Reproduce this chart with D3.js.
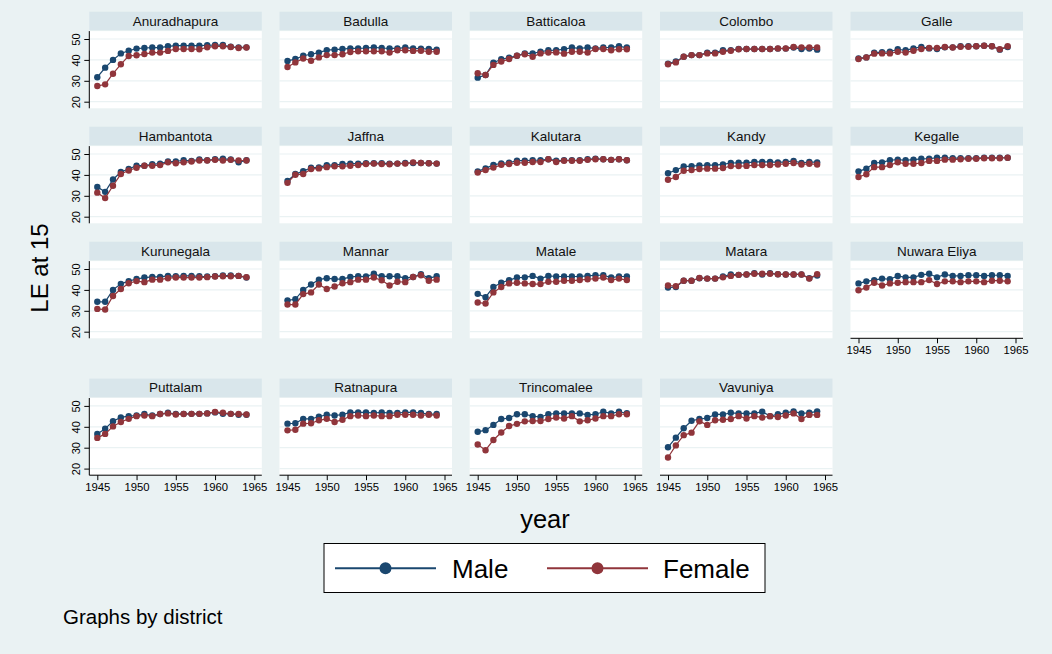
<!DOCTYPE html>
<html>
<head>
<meta charset="utf-8">
<script src="https://cdn.jsdelivr.net/npm/d3@7"></script>
<style>
  html, body { margin: 0; padding: 0; background: #eaf2f3; }
  svg { display: block; font-family: "Liberation Sans", Arial, sans-serif; }
</style>
</head>
<body>
<svg id="chart" width="1052" height="654"></svg>
<script>
// years 1945..1964
const years = d3.range(1945, 1965);

const districts = [
  "Anuradhapura", "Badulla", "Batticaloa", "Colombo", "Galle",
  "Hambantota", "Jaffna", "Kalutara", "Kandy", "Kegalle",
  "Kurunegala", "Mannar", "Matale", "Matara", "Nuwara Eliya",
  "Puttalam", "Ratnapura", "Trincomalee", "Vavuniya"
];

// LE at 15, males
const male = {
  "Anuradhapura": [31.7,36.3,40.0,43.1,44.4,45.4,45.7,45.9,45.9,46.5,46.8,46.8,46.8,46.8,47.0,47.1,47.1,46.3,46.0,46.0],
  "Badulla":      [39.5,40.4,42.0,42.7,43.5,44.7,44.9,45.2,45.5,45.5,45.7,46.0,45.7,45.5,45.5,45.9,45.5,45.4,45.2,44.9],
  "Batticaloa":   [31.5,32.8,38.7,40.3,41.1,42.0,43.1,43.1,43.9,44.6,44.7,45.1,45.9,45.5,45.9,45.5,45.9,46.0,46.5,45.9],
  "Colombo":      [38.2,39.2,41.5,42.3,42.3,43.5,43.5,44.6,44.7,45.2,45.2,45.2,45.2,45.2,45.4,45.4,45.9,45.2,45.4,44.9],
  "Galle":        [40.7,41.2,43.5,43.7,43.9,45.1,44.6,45.5,46.2,45.5,45.2,46.0,46.0,46.5,46.5,46.5,46.8,46.5,44.9,46.2],
  "Hambantota":   [34.2,31.9,37.8,41.4,42.8,44.4,44.4,45.1,45.4,46.4,46.4,47.0,46.7,47.4,47.0,47.5,47.7,47.4,46.0,47.0],
  "Jaffna":       [37.1,40.4,41.8,43.4,43.6,44.7,44.7,45.2,45.4,45.4,45.6,45.6,45.6,45.4,45.4,45.7,45.7,45.7,45.6,45.4],
  "Kalutara":     [41.7,43.1,44.8,45.5,45.8,46.8,46.8,47.0,47.0,47.5,46.8,47.0,47.0,47.0,47.5,47.8,47.5,47.2,47.5,47.0],
  "Kandy":        [40.8,42.3,44.0,44.2,44.5,44.7,44.7,45.0,45.7,45.8,45.8,46.2,46.2,46.2,46.0,46.2,46.7,45.7,46.2,46.0],
  "Kegalle":      [41.7,43.0,45.7,46.0,47.0,47.3,47.0,47.3,47.7,47.8,48.2,48.2,48.0,48.0,48.0,48.0,48.2,48.2,48.2,48.2],
  "Kurunegala":   [34.3,34.3,40.0,42.9,44.2,45.2,45.9,46.2,46.2,46.7,46.5,46.7,46.7,46.5,46.4,46.5,46.9,46.9,46.7,45.9],
  "Mannar":       [35.0,35.5,40.0,42.6,44.9,45.6,45.2,45.2,46.2,46.5,46.4,47.7,46.5,46.5,46.5,45.6,46.2,47.5,45.6,46.5],
  "Matale":       [38.1,36.5,41.4,43.4,44.7,45.9,46.0,46.7,45.4,46.7,46.4,46.4,46.4,46.4,46.7,47.0,47.0,45.9,46.4,46.4],
  "Matara":       [41.1,41.4,44.4,44.4,45.6,45.4,45.4,46.4,47.4,47.2,47.4,48.0,47.4,48.0,47.5,47.4,47.4,47.4,45.6,46.9],
  "Nuwara Eliya": [43.1,44.1,44.7,45.4,45.1,46.7,46.0,46.0,47.2,47.7,46.0,47.4,46.7,46.7,47.0,47.0,46.7,47.0,47.0,46.7],
  "Puttalam":     [36.6,39.1,42.7,44.5,45.1,45.4,46.1,45.4,46.1,46.7,46.1,46.2,46.2,46.2,46.4,46.9,46.2,46.2,45.8,45.8],
  "Ratnapura":    [41.5,41.7,43.8,43.8,44.8,45.8,45.4,45.8,46.9,46.9,46.9,46.6,46.9,46.6,46.6,46.9,46.9,46.6,46.1,46.1],
  "Trincomalee":  [37.6,38.4,40.9,43.7,44.2,46.0,46.0,45.1,44.7,46.0,46.4,46.4,46.4,46.4,45.7,46.0,47.2,46.4,47.2,46.5],
  "Vavuniya":     [30.2,34.8,39.3,42.9,43.7,44.2,45.9,45.9,46.7,46.4,46.4,46.4,47.2,45.1,46.0,46.7,47.4,46.4,46.7,47.4]
};

// LE at 15, females
const female = {
  "Anuradhapura": [27.5,28.3,33.4,37.9,41.9,42.2,42.8,43.5,43.5,44.3,45.2,45.2,45.2,45.1,46.0,46.5,46.5,46.2,45.7,45.9],
  "Badulla":      [36.6,38.8,40.7,39.6,41.2,42.3,42.3,42.7,43.8,44.1,44.1,44.1,44.1,43.5,44.6,44.6,44.3,44.4,43.9,43.9],
  "Batticaloa":   [33.6,32.8,37.6,39.2,40.4,42.0,42.7,41.5,43.1,43.5,43.6,43.0,43.9,43.9,43.5,45.2,45.2,44.6,45.1,45.1],
  "Colombo":      [37.9,38.8,41.5,42.3,42.3,43.1,43.1,43.9,44.4,45.1,45.2,45.2,45.2,45.2,45.5,45.5,46.2,46.0,46.0,45.9],
  "Galle":        [40.4,41.2,43.0,43.1,43.1,43.9,43.5,44.4,45.2,45.7,45.7,46.2,45.9,46.3,46.3,46.5,46.8,46.5,45.1,46.5],
  "Hambantota":   [31.5,28.9,34.8,40.4,42.1,43.4,44.4,44.4,44.7,46.0,45.6,46.0,46.4,46.9,46.9,47.2,46.9,47.2,46.9,46.9],
  "Jaffna":       [36.2,40.1,40.4,42.8,43.1,43.7,44.1,44.1,44.4,44.7,45.2,45.4,45.2,45.1,45.4,45.4,46.0,45.7,45.6,45.4],
  "Kalutara":     [41.1,42.3,43.5,44.8,45.2,45.8,45.8,46.2,46.2,47.5,46.2,46.8,46.8,46.8,47.2,47.5,47.5,47.2,47.5,47.0],
  "Kandy":        [37.7,39.0,42.0,42.3,42.8,43.0,43.0,43.3,44.2,44.2,44.3,44.7,44.7,44.7,45.0,45.3,45.7,45.0,45.3,45.0],
  "Kegalle":      [39.0,40.3,43.7,43.7,44.7,46.0,45.3,45.3,45.7,46.7,46.7,47.3,47.3,47.5,47.7,47.7,48.0,48.0,48.0,48.2],
  "Kurunegala":   [30.9,30.6,37.1,40.4,43.2,44.2,43.7,44.9,44.9,45.6,45.9,45.9,45.9,45.9,46.1,46.4,46.5,46.5,46.7,46.1],
  "Mannar":       [33.0,33.0,38.0,38.8,42.6,40.4,41.6,43.2,43.7,44.9,44.9,45.9,44.6,42.1,43.9,43.7,46.2,47.0,44.4,44.9],
  "Matale":       [34.0,33.5,38.8,41.4,43.1,43.4,43.1,42.8,42.8,43.9,43.9,44.4,44.4,44.7,45.1,45.4,45.9,44.7,45.4,44.7],
  "Matara":       [42.1,41.8,44.4,44.4,45.7,45.4,45.4,46.0,46.7,47.2,47.4,47.7,47.7,47.7,47.5,47.4,47.4,47.4,45.4,47.5],
  "Nuwara Eliya": [39.8,41.1,43.4,42.1,43.1,43.4,43.7,43.7,43.7,44.7,42.8,44.1,44.1,43.7,44.1,44.1,43.7,44.4,44.4,44.1],
  "Puttalam":     [34.7,36.6,40.2,42.3,43.8,45.1,45.4,45.1,46.1,46.4,45.9,46.1,46.2,46.2,46.4,47.1,46.7,46.2,46.1,45.9],
  "Ratnapura":    [38.3,38.6,41.5,41.7,43.1,43.8,42.3,43.4,45.1,45.4,45.1,45.4,45.1,45.1,45.8,45.8,45.8,45.4,45.8,45.4],
  "Trincomalee":  [31.5,28.8,33.7,37.3,40.4,41.4,42.6,42.8,42.8,43.7,44.4,44.0,45.1,42.6,43.1,44.0,45.1,45.1,46.0,46.0],
  "Vavuniya":     [25.3,31.1,36.0,37.2,42.6,40.9,43.1,43.4,43.7,45.1,44.0,45.1,44.4,45.1,44.7,45.4,46.4,43.7,45.7,45.7]
};

const yTicks = [20, 30, 40, 50];
const xTicks = [1945, 1950, 1955, 1960, 1965];
const series = [
  { name: "Male", values: male, color: "#1a476f" },
  { name: "Female", values: female, color: "#90353b" }
];

const svg = d3.select("#chart");
const W = 1052, H = 654;

svg.append("rect").attr("width", W).attr("height", H).attr("fill", "#eaf2f3");

// panel grid
const colX = [89.3, 279.5, 469.7, 660, 850.5];
const rowY = [11.7, 126.7, 241.7, 378.6];
const panelW = 172.5;
const headH = 18.6;
const plotBottom = 96.6;

districts.forEach((name, i) => {
  const col = i % 5;
  const row = Math.floor(i / 5);
  const x0 = colX[col], y0 = rowY[row];
  const g = svg.append("g").attr("transform", `translate(${x0},${y0})`);

  const x = d3.scaleLinear().domain([1945, 1965]).range([8, 165]);
  const y = d3.scaleLinear().domain([20, 50]).range([90, 27.3]);

  // header strip
  g.append("rect")
    .attr("width", panelW).attr("height", headH)
    .attr("fill", "#d9e6eb");
  g.append("text")
    .attr("x", panelW / 2).attr("y", headH / 2 + 1)
    .attr("text-anchor", "middle").attr("dominant-baseline", "middle")
    .attr("font-size", 13.5).attr("fill", "#111")
    .text(name);

  // plot region
  g.append("rect")
    .attr("y", headH + 0.8).attr("width", panelW).attr("height", plotBottom - headH - 0.8)
    .attr("fill", "white");

  g.append("g").selectAll("line")
    .data(yTicks).enter().append("line")
    .attr("x1", 0).attr("x2", panelW)
    .attr("y1", d => y(d)).attr("y2", d => y(d))
    .attr("stroke", "#eaf2f3").attr("stroke-width", 1.2);

  // y axis on first column
  if (col === 0) {
    const ya = g.append("g").call(d3.axisLeft(y).tickValues(yTicks).tickSize(5).tickFormat(d3.format("d")));
    ya.select(".domain").attr("d", `M0,${headH + 0.8}V${plotBottom}`).attr("stroke", "#000");
    ya.selectAll(".tick line").attr("stroke", "#000");
    ya.selectAll(".tick text")
      .attr("font-size", 11).attr("font-family", "Liberation Sans, Arial, sans-serif").attr("fill", "#000")
      .attr("transform", "rotate(-90)")
      .attr("x", 0).attr("y", -9).attr("dy", "0em")
      .attr("text-anchor", "middle");
  }

  // x axis on the bottom panel of each column
  if (row === 3 || name === "Nuwara Eliya") {
    const xa = g.append("g").attr("transform", `translate(0,${plotBottom})`)
      .call(d3.axisBottom(x).tickValues(xTicks).tickSize(5).tickFormat(d3.format("d")));
    xa.select(".domain").attr("d", `M0,0H${panelW}`).attr("stroke", "#000");
    xa.selectAll(".tick line").attr("stroke", "#000");
    xa.selectAll(".tick text")
      .attr("font-size", 11.3).attr("font-family", "Liberation Sans, Arial, sans-serif").attr("fill", "#000")
      .attr("y", 8);
  }

  series.forEach(s => {
    const pts = years.map((yr, k) => ({ yr, v: s.values[name][k] }));
    g.append("path")
      .datum(pts)
      .attr("fill", "none")
      .attr("stroke", s.color)
      .attr("stroke-width", 1.2)
      .attr("d", d3.line().x(d => x(d.yr)).y(d => y(d.v)));
    g.append("g").selectAll("circle")
      .data(pts).enter().append("circle")
      .attr("cx", d => x(d.yr)).attr("cy", d => y(d.v))
      .attr("r", 3.2).attr("fill", s.color);
  });
});

// axis titles
svg.append("text")
  .attr("transform", "translate(42,268) rotate(-90)")
  .attr("text-anchor", "middle").attr("dominant-baseline", "middle")
  .attr("font-size", 24).attr("fill", "#000")
  .text("LE at 15");

svg.append("text")
  .attr("x", 545).attr("y", 521)
  .attr("text-anchor", "middle").attr("dominant-baseline", "middle")
  .attr("font-size", 25.5).attr("fill", "#000")
  .text("year");

// legend
const leg = svg.append("g");
leg.append("rect")
  .attr("x", 324).attr("y", 543.5).attr("width", 441).attr("height", 49)
  .attr("fill", "white").attr("stroke", "#000").attr("stroke-width", 1);
const legItems = [
  { s: series[0], x1: 335, x2: 436, tx: 452 },
  { s: series[1], x1: 547, x2: 648, tx: 663 }
];
legItems.forEach(it => {
  leg.append("line")
    .attr("x1", it.x1).attr("x2", it.x2).attr("y1", 568.3).attr("y2", 568.3)
    .attr("stroke", it.s.color).attr("stroke-width", 2);
  leg.append("circle")
    .attr("cx", (it.x1 + it.x2) / 2).attr("cy", 568.3).attr("r", 6)
    .attr("fill", it.s.color);
  leg.append("text")
    .attr("x", it.tx).attr("y", 578)
    .attr("font-size", 26).attr("fill", "#000")
    .text(it.s.name);
});

svg.append("text")
  .attr("x", 63).attr("y", 624)
  .attr("font-size", 20.5).attr("fill", "#000")
  .text("Graphs by district");
</script>
</body>
</html>
